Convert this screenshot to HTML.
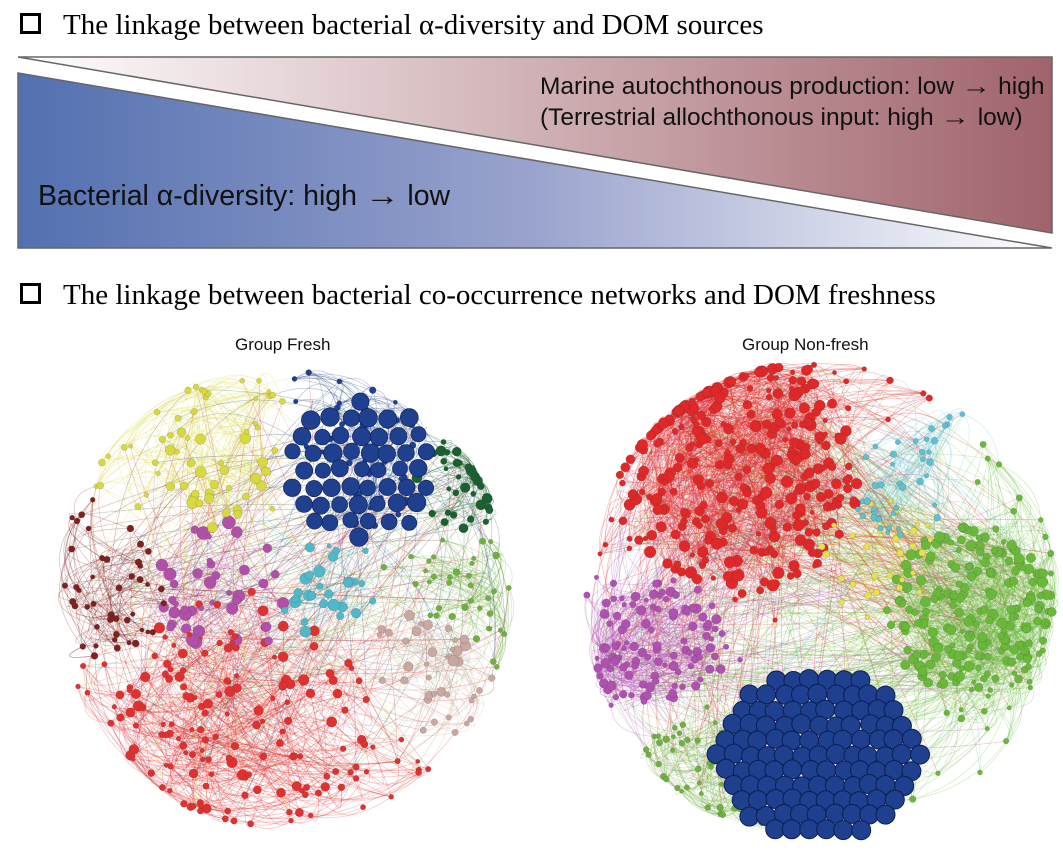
<!DOCTYPE html>
<html><head><meta charset="utf-8"><style>
body{margin:0;background:#fff;width:1063px;height:851px;overflow:hidden;position:relative;font-family:"Liberation Sans",sans-serif}
.h{position:absolute;font-family:"Liberation Serif",serif;font-size:29px;color:#000;white-space:nowrap}
.box{display:inline-block;width:15px;height:15px;border:3px solid #000;margin-right:22px;vertical-align:0px}
.t{position:absolute;font-size:24.5px;color:#111;white-space:nowrap}
.a{display:inline-block;transform:scaleX(1.2);margin:0 3px}
</style></head><body>
<div class="h" style="left:20px;top:9px"><span class="box"></span>The linkage between bacterial α-diversity and DOM sources</div>
<svg style="position:absolute;left:0;top:0" width="1063" height="260">
<defs>
<linearGradient id="r" x1="0" x2="1"><stop offset="0" stop-color="#fff"/><stop offset="1" stop-color="#a0636b"/></linearGradient>
<linearGradient id="b" x1="0" x2="1"><stop offset="0" stop-color="#5370b0"/><stop offset="0.5" stop-color="#9aa3cd"/><stop offset="1" stop-color="#fff"/></linearGradient>
</defs>
<polygon points="18,57 1052,57 1052,233" fill="url(#r)" stroke="#666" stroke-width="1.5"/>
<polygon points="18,73 18,248 1052,248" fill="url(#b)" stroke="#666" stroke-width="1.5"/>
</svg>
<div class="t" style="left:540px;top:73px">Marine autochthonous production: low <span class="a">→</span> high</div>
<div class="t" style="left:540px;top:104px">(Terrestrial allochthonous input: high <span class="a">→</span> low)</div>
<div class="t" style="left:38px;top:180px;font-size:28.5px">Bacterial α-diversity: high <span class="a">→</span> low</div>
<div class="h" style="left:20px;top:279px"><span class="box"></span>The linkage between bacterial co-occurrence networks and DOM freshness</div>
<div class="t" style="left:235px;top:335px;font-size:17px">Group Fresh</div>
<div class="t" style="left:742px;top:335px;font-size:17px">Group Non-fresh</div>
<svg id="net" style="position:absolute;left:0;top:0" width="1063" height="851"></svg>
<script>
var s=12345;function R(){s=(s*16807)%2147483647;return s/2147483647;}
var svg=document.getElementById('net'),E='',N='';
function net(cx,cy,rad,cl,nLeaf,nEdge){
 var nodes=[];
 cl.forEach(function(c){c.m=[];for(var i=0;i<c.n;i++){var a=R()*6.283,d=Math.sqrt(R())*c.r;var x=c.x+Math.cos(a)*d,y=c.y+Math.sin(a)*d;
  var dx=x-cx,dy=y-cy,dd=Math.sqrt(dx*dx+dy*dy);if(dd>rad){x=cx+dx/dd*rad;y=cy+dy/dd*rad;}
  var n={x:x,y:y,c:c.c,s:c.s*(0.7+R()*0.5),k:c};nodes.push(n);c.m.push(n);}});
 for(var i=0;i<nLeaf;i++){var a=R()*6.283,d=Math.pow(R(),0.3)*rad;var x=cx+Math.cos(a)*d,y=cy+Math.sin(a)*d;
  var best=null,bd=1e9;cl.forEach(function(c){var q=Math.hypot(c.x-x,c.y-y)/c.w;if(q<bd){bd=q;best=c;}});
  var n={x:x,y:y,c:best.c,s:2.2+R()*1.3,k:best};nodes.push(n);best.m.push(n);}
 for(var i=0;i<nEdge;i++){var a=nodes[Math.floor(R()*nodes.length)];var b=R()<0.7?a.k.m[Math.floor(R()*a.k.m.length)]:nodes[Math.floor(R()*nodes.length)];
  if(!b||a==b)continue;var mx=(a.x+b.x)/2,my=(a.y+b.y)/2;var dx=mx-cx,dy=my-cy;var f=0.15+R()*0.25;mx+=dx*f;my+=dy*f;
  dx=mx-cx;dy=my-cy;var dd=Math.sqrt(dx*dx+dy*dy),lim=rad*1.05;if(dd>lim){mx=cx+dx/dd*lim;my=cy+dy/dd*lim;}
  E+='<path d="M'+a.x.toFixed(1)+' '+a.y.toFixed(1)+'Q'+mx.toFixed(1)+' '+my.toFixed(1)+' '+b.x.toFixed(1)+' '+b.y.toFixed(1)+'" stroke="'+a.c+'" stroke-opacity="0.3" fill="none" stroke-width="0.7"/>';}
 nodes.forEach(function(n){N+='<circle cx="'+n.x.toFixed(1)+'" cy="'+n.y.toFixed(1)+'" r="'+n.s.toFixed(1)+'" fill="'+n.c+'" stroke="#333" stroke-opacity="0.3" stroke-width="0.5"/>';});
}
net(282,598,228,[
 {x:360,y:470,r:60,n:10,c:'#1f3f8f',s:4,w:1},
 {x:240,y:720,r:130,n:80,c:'#e03030',s:4.5,w:2.2},
 {x:225,y:590,r:70,n:35,c:'#b050a8',s:5.5,w:1},
 {x:215,y:475,r:55,n:25,c:'#d8d840',s:5,w:1},
 {x:320,y:590,r:45,n:22,c:'#50b8c8',s:5,w:0.9},
 {x:460,y:490,r:50,n:22,c:'#1a6030',s:4.5,w:1},
 {x:420,y:660,r:50,n:18,c:'#c8a8a0',s:4.5,w:0.9},
 {x:470,y:580,r:60,n:15,c:'#70b040',s:3,w:1.2},
 {x:120,y:600,r:50,n:12,c:'#802020',s:3,w:0.9}],260,1700);
net(820,600,236,[
 {x:735,y:470,r:125,n:260,c:'#e02828',s:5,w:1.6},
 {x:970,y:610,r:85,n:180,c:'#6ab83a',s:4.5,w:1.3},
 {x:655,y:645,r:70,n:90,c:'#b050b0',s:4.2,w:1},
 {x:880,y:560,r:60,n:30,c:'#e8e050',s:3,w:0.7},
 {x:900,y:490,r:50,n:25,c:'#60c0d0',s:3,w:0.7},
 {x:700,y:770,r:60,n:30,c:'#70b040',s:3,w:0.8}],200,3000);
var N2='',bx=818,by=755;
for(var r=-5;r<=5;r++)for(var c=-6;c<=6;c++){var x=bx+c*17+(r&1?8.5:0),y=by+r*15;
 if(((x-bx)/108)*((x-bx)/108)+((y-by)/88)*((y-by)/88)>1)continue;
 N2+='<circle cx="'+(x+(R()-.5)*3).toFixed(1)+'" cy="'+(y+(R()-.5)*3).toFixed(1)+'" r="9.5" fill="#1f3f8f" stroke="#0c1e55" stroke-width="1"/>';}
var N3='';bx=360;by=470;
for(var r=-4;r<=4;r++)for(var c=-4;c<=4;c++){var x=bx+c*19+(r&1?9.5:0),y=by+r*17;
 if(((x-bx)/75)*((x-bx)/75)+((y-by)/68)*((y-by)/68)>1)continue;
 N3+='<circle cx="'+(x+(R()-.5)*4).toFixed(1)+'" cy="'+(y+(R()-.5)*4).toFixed(1)+'" r="'+(7.5+R()*2).toFixed(1)+'" fill="#1f3f8f" stroke="#0c1e55" stroke-width="0.6"/>';}
svg.innerHTML=E+N+N2+N3;
</script>
</body></html>
